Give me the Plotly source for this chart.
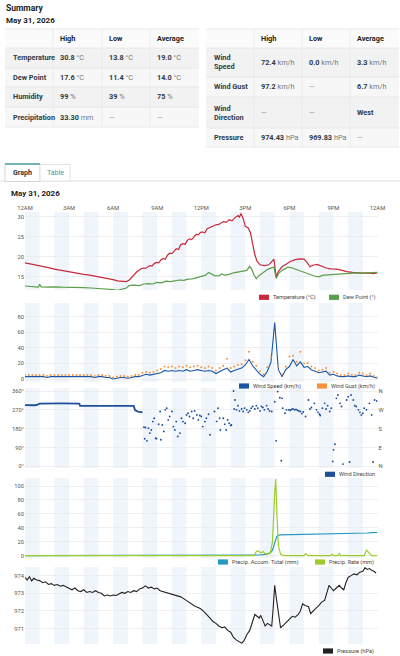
import plotly.graph_objects as go

W, H = 400, 656
FONT = "Roboto"

# ---------------- data ----------------
hour_ticks = [0, 3, 6, 9, 12, 15, 18, 21, 24]
hour_labels = ["12AM", "3AM", "6AM", "9AM", "12PM", "3PM", "6PM", "9PM", "12AM"]

temperature = [(0, 18.5), (0.3, 18.3), (0.6, 18.0), (1, 17.8), (1.3, 17.5), (1.6, 17.3), (2, 16.9), (2.3, 16.7),
               (2.6, 16.4), (3, 16.2), (3.3, 16.0), (3.6, 15.8), (4, 15.6), (4.3, 15.5), (4.6, 15.3), (5, 15.1),
               (5.3, 14.9), (5.6, 14.6), (6, 14.3), (6.3, 14.0), (6.6, 13.9), (6.9, 13.8), (7.1, 14.2), (7.3, 15.0),
               (7.6, 16.2), (7.9, 17.0), (8.05, 17.2), (8.2, 17.1), (8.35, 17.5), (8.5, 17.8), (8.65, 17.7),
               (8.8, 18.3), (8.95, 18.6), (9.1, 18.5), (9.25, 19.2), (9.4, 19.6), (9.55, 19.4), (9.7, 20.4),
               (9.85, 20.9), (10.0, 20.8), (10.15, 21.4), (10.3, 22.0), (10.45, 21.8), (10.6, 23.0), (10.75, 23.3),
               (10.9, 23.1), (11.05, 24.1), (11.2, 24.5), (11.35, 24.3), (11.5, 25.0), (11.65, 25.6), (11.8, 25.5),
               (11.95, 26.1), (12.1, 26.2), (12.25, 26.0), (12.4, 27.0), (12.7, 27.5), (13, 28.0), (13.2, 28.1),
               (13.5, 28.8), (13.7, 28.6), (13.9, 29.3), (14.1, 29.0), (14.3, 29.8), (14.5, 30.3), (14.6, 29.9),
               (14.7, 30.8), (14.85, 29.6), (15.0, 27.6), (15.2, 27.2), (15.35, 26.0), (15.5, 23.0), (15.65, 20.5),
               (15.8, 18.9), (16.0, 18.0), (16.3, 17.8), (16.6, 18.0), (16.8, 18.8), (16.95, 19.4), (17.1, 15.0),
               (17.25, 16.3), (17.5, 17.5), (17.8, 18.3), (18.1, 18.9), (18.4, 19.3), (18.7, 19.5), (19.0, 19.4),
               (19.2, 18.6), (19.4, 17.5), (19.6, 17.9), (19.9, 18.1), (20.2, 17.6), (20.5, 17.2), (20.8, 17.0),
               (21.2, 16.9), (21.6, 16.6), (21.9, 16.3), (22.3, 16.1), (22.6, 16.0), (23.0, 15.9), (23.4, 16.0),
               (23.7, 15.8), (24.0, 16.0)]

dew_point = [(0, 12.7), (0.5, 12.5), (0.9, 12.4), (1.0, 13.1), (1.1, 12.5), (1.5, 12.4), (2, 12.5), (2.5, 12.4),
             (3, 12.4), (3.5, 12.3), (4, 12.3), (4.5, 12.2), (5, 12.1), (5.5, 11.9), (6, 11.8), (6.3, 11.6),
             (6.6, 11.9), (6.9, 12.2), (7.1, 12.8), (7.4, 12.9), (7.8, 12.8), (8.1, 13.2), (8.4, 13.3), (8.7, 13.2),
             (9.0, 13.6), (9.3, 13.5), (9.6, 13.9), (9.9, 13.8), (10.2, 14.0), (10.5, 14.2), (10.8, 14.1),
             (11.1, 14.4), (11.4, 14.5), (11.7, 14.8), (12.0, 15.0), (12.3, 15.4), (12.5, 16.1), (12.7, 15.6),
             (12.9, 15.3), (13.2, 15.2), (13.4, 15.7), (13.6, 15.4), (13.9, 15.6), (14.2, 16.0), (14.5, 16.2),
             (14.8, 16.5), (15.1, 16.6), (15.3, 17.6), (15.45, 16.8), (15.6, 15.4), (15.75, 14.5), (15.9, 15.2),
             (16.2, 16.1), (16.5, 16.8), (16.8, 17.3), (16.95, 17.4), (17.1, 14.6), (17.3, 16.0), (17.6, 16.8),
             (17.9, 17.4), (18.2, 17.2), (18.5, 16.8), (18.8, 16.4), (19.1, 16.0), (19.4, 15.6), (19.7, 15.2),
             (20.0, 15.0), (20.3, 15.4), (20.6, 15.5), (21.0, 15.6), (21.4, 15.7), (21.8, 15.8), (22.2, 16.0),
             (22.6, 16.0), (23.0, 15.9), (23.5, 16.0), (24, 16.1)]

# wind readings every 15 minutes (one row per hour)
wind_interval_h = 0.25
wind_speed = [
    3, 3, 3, 3,
    3, 3, 2, 3,
    3, 3, 3, 3,
    3, 3, 3, 3,
    3, 3, 3, 2,
    3, 3, 2, 2,
    0, 1, 2, 2,
    1, 2, 3, 3,
    5, 6, 5, 6,
    7, 8, 11, 10,
    11, 10, 11, 10,
    12, 10, 11, 12,
    11, 10, 11, 10,
    7, 10, 12, 14,
    9, 11, 13, 14,
    18, 25, 17, 12,
    6, 3, 10, 22,
    72.4, 12, 3, 12,
    16, 25, 17, 22,
    15, 16, 12, 10,
    8, 9, 10, 5,
    6, 4, 3, 3,
    4, 3, 3, 5,
    4, 3, 4, 2,
    1]
wind_gust = [
    5, 5, 5, 5,
    5, 5, 4, 5,
    5, 5, 5, 5,
    5, 5, 5, 5,
    5, 5, 5, 4,
    5, 5, 4, 4,
    2, 3, 4, 4,
    3, 4, 5, 5,
    8, 9, 8, 9,
    11, 13, 16, 15,
    16, 14, 16, 15,
    17, 15, 16, 17,
    15, 14, 16, 14,
    11, 14, 17, 26,
    14, 16, 18, 19,
    24, 35, 22, 17,
    10, 6, 15, 28,
    None, 16, 6, 16,
    29, 30, 22, 35,
    20, 21, 16, 14,
    11, 12, 14, 8,
    9, 7, 5, 5,
    7, 5, 5, 8,
    7, 5, 7, 4,
    3]

wind_dir_steady = [(0, 293), (0.7, 292), (0.9, 296), (1.0, 300), (2.5, 301), (3.7, 300), (3.75, 289),
                   (5.5, 290), (7.4, 289), (7.5, 268), (7.7, 262), (8.0, 258)]
wind_dir_points = [
    (8.1, 187), (8.15, 132), (8.2, 186), (8.3, 122), (8.4, 182), (8.5, 159), (8.6, 174), (8.7, 214), (8.8, 230),
    (8.9, 135), (8.95, 132), (9.1, 201), (9.2, 262), (9.25, 127), (9.35, 198), (9.45, 167), (9.55, 270),
    (9.65, 278), (9.75, 222), (9.85, 238), (10.0, 262), (10.1, 190), (10.2, 174), (10.3, 214), (10.4, 143),
    (10.55, 159), (10.65, 230), (10.75, 214), (10.9, 206), (11.0, 246), (11.1, 254), (11.2, 238), (11.35, 262),
    (11.45, 230), (11.55, 265), (11.7, 246), (11.8, 222), (11.9, 243), (12.0, 238), (12.1, 190), (12.25, 214),
    (12.35, 230), (12.5, 249), (12.6, 151), (12.9, 262), (13.05, 215), (13.15, 278), (13.25, 230), (13.3, 174),
    (13.5, 230), (13.6, 201), (13.7, 174), (13.8, 222), (13.9, 206), (14.0, 195), (14.05, 198),
    (14.2, 360), (14.3, 317), (14.25, 274), (14.4, 270), (14.5, 290), (14.6, 265), (14.75, 274), (14.85, 262),
    (14.95, 278), (15.1, 270), (15.2, 258), (15.3, 265), (15.4, 278), (15.5, 286), (15.65, 274), (15.75, 290),
    (15.85, 278), (16.0, 265), (16.1, 286), (16.2, 281), (16.3, 270), (16.45, 290), (16.55, 274), (16.65, 265),
    (16.8, 262), (17.0, 309), (17.1, 122), (17.2, 357), (17.35, 328), (17.45, 27), (17.5, 325), (17.55, 278),
    (17.7, 254), (17.8, 270), (17.95, 270), (18.05, 268), (18.15, 272), (18.25, 274), (18.35, 270), (18.45, 272),
    (18.55, 268), (18.65, 265), (18.75, 262), (18.85, 252), (18.95, 260), (19.1, 238), (19.3, 317), (19.4, 274),
    (19.5, 281), (19.7, 301), (19.85, 270), (19.95, 258), (20.05, 249), (20.1, 243), (20.25, 278), (20.4, 301),
    (20.5, 274), (20.6, 290), (20.75, 262), (20.85, 278), (20.95, 24), (21.0, 79), (21.1, 106), (21.2, 325),
    (21.3, 341), (21.45, 301), (21.55, 286), (21.65, 11), (21.9, 317), (22.0, 333), (22.1, 21), (22.2, 341),
    (22.35, 317), (22.45, 290), (22.55, 286), (22.7, 270), (22.8, 258), (22.9, 246), (23.0, 254), (23.1, 278),
    (23.25, 270), (23.45, 301), (23.6, 246), (23.7, 21), (23.8, 317), (23.95, 312)]

precip_accum = [(0, 0), (15.6, 0), (16.0, 1), (16.4, 2), (16.7, 4), (16.85, 8), (17.0, 20), (17.15, 28),
                (17.35, 30), (18.0, 30.2), (19.0, 30.6), (20.0, 30.9), (21.0, 31.1), (22.0, 31.3), (23.0, 31.5),
                (23.3, 32.6), (23.6, 33.0), (24.0, 33.3)]
precip_rate = [(0, 0), (15.6, 0), (15.75, 6), (15.9, 7), (16.05, 4), (16.2, 6), (16.35, 3), (16.5, 2), (16.7, 4),
               (16.85, 20), (17.0, 90), (17.07, 110), (17.15, 60), (17.25, 15), (17.4, 2), (17.6, 0), (19.0, 0),
               (19.1, 3), (19.3, 0), (20.8, 0), (20.9, 2), (21.0, 0), (21.3, 0), (21.4, 3), (21.5, 0), (23.1, 0),
               (23.25, 8), (23.45, 3), (23.6, 0), (24, 0)]

pressure = [(0, 973.9), (0.15, 973.75), (0.3, 973.95), (0.45, 973.7), (0.6, 973.85), (0.8, 973.75), (1.0, 973.72),
            (1.2, 973.6), (1.4, 973.65), (1.6, 973.5), (1.8, 973.55), (2.0, 973.45), (2.2, 973.5), (2.4, 973.4),
            (2.6, 973.45), (2.8, 973.35), (3.0, 973.3), (3.2, 973.2), (3.4, 973.3), (3.6, 973.15), (3.8, 973.1),
            (4.0, 973.2), (4.2, 973.05), (4.4, 973.1), (4.6, 973.05), (4.8, 973.15), (5.0, 973.05), (5.2, 973.0),
            (5.4, 972.85), (5.6, 972.9), (5.8, 972.85), (6.0, 972.9), (6.2, 972.88), (6.4, 972.95), (6.6, 973.05),
            (6.8, 973.0), (7.0, 973.1), (7.2, 973.05), (7.4, 973.15), (7.6, 973.1), (7.8, 973.25), (8.0, 973.3),
            (8.2, 973.42), (8.4, 973.3), (8.6, 973.35), (8.8, 973.25), (9.0, 973.3), (9.2, 973.15), (9.4, 973.1),
            (9.6, 973.05), (9.8, 973.0), (10.0, 972.95), (10.2, 972.9), (10.4, 972.85), (10.6, 972.8),
            (10.8, 972.7), (11.0, 972.6), (11.2, 972.5), (11.4, 972.35), (11.6, 972.25), (11.8, 972.2),
            (12.0, 972.1), (12.2, 971.95), (12.4, 971.8), (12.6, 971.6), (12.8, 971.4), (13.0, 971.3),
            (13.2, 971.15), (13.4, 971.05), (13.6, 971.1), (13.8, 970.9), (14.0, 970.8), (14.2, 970.5),
            (14.4, 970.35), (14.6, 970.25), (14.75, 970.18), (14.9, 970.3), (15.1, 970.65), (15.3, 970.9),
            (15.5, 971.4), (15.65, 971.8), (15.8, 971.7), (15.95, 971.6), (16.05, 971.75), (16.2, 971.4),
            (16.35, 971.15), (16.5, 971.3), (16.65, 971.2), (16.8, 971.15), (16.9, 972.2), (17.0, 973.45),
            (17.1, 972.8), (17.25, 971.8), (17.4, 971.05), (17.6, 971.2), (17.8, 971.35), (18.0, 971.55),
            (18.2, 971.7), (18.4, 971.65), (18.6, 971.8), (18.75, 972.0), (18.9, 972.4), (19.1, 972.3),
            (19.3, 972.25), (19.45, 971.85), (19.6, 972.0), (19.8, 972.15), (20.0, 972.3), (20.2, 972.5),
            (20.4, 972.6), (20.55, 973.0), (20.7, 973.45), (20.85, 973.3), (21.0, 973.15), (21.2, 973.3),
            (21.4, 973.45), (21.55, 973.3), (21.7, 973.2), (21.85, 973.6), (22.0, 973.9), (22.2, 974.0),
            (22.4, 974.1), (22.6, 974.05), (22.8, 974.2), (23.0, 974.25), (23.15, 974.45), (23.3, 974.35),
            (23.45, 974.4), (23.6, 974.3), (23.75, 974.25), (23.9, 974.15)]

# summary tables
left_rows = ["Temperature", "Dew Point", "Humidity", "Precipitation"]
left_high = [("30.8", "°C"), ("17.6", "°C"), ("99", "%"), ("33.30", "mm")]
left_low = [("13.8", "°C"), ("11.4", "°C"), ("39", "%"), None]
left_avg = [("19.0", "°C"), ("14.0", "°C"), ("75", "%"), None]
right_rows = ["Wind<br>Speed", "Wind Gust", "Wind<br>Direction", "Pressure"]
right_high = [("72.4", "km/h"), ("97.2", "km/h"), None, ("974.43", "hPa")]
right_low = [("0.0", "km/h"), None, None, ("969.83", "hPa")]
right_avg = [("3.3", "km/h"), ("6.7", "km/h"), ("West", ""), None]
table_header = ["High", "Low", "Average"]

# colors
C_TEMP = "#c8283b"
C_DEW = "#5a9e4b"
C_WIND = "#1b57a6"
C_GUST = "#f5923e"
C_DIR = "#1d4f9a"
C_ACC = "#2797c4"
C_RATE = "#9ccc2c"
C_PRES = "#222222"
C_BAND = "#f0f5fb"
C_GRID = "#e8e8e8"
C_TXT = "#333"


def xs(pts):
    return [p[0] for p in pts]


def ys(pts):
    return [p[1] for p in pts]


def PX(p):
    return p / W


def PY(p):
    return 1 - p / H


wind_hours = [i * wind_interval_h for i in range(len(wind_speed))]

fig = go.Figure()
line_w = 1.2
fig.add_trace(go.Scatter(x=xs(temperature), y=ys(temperature), mode="lines", line=dict(color=C_TEMP, width=line_w),
                         xaxis="x", yaxis="y", name="Temperature (°C)"))
fig.add_trace(go.Scatter(x=xs(dew_point), y=ys(dew_point), mode="lines", line=dict(color=C_DEW, width=line_w),
                         xaxis="x", yaxis="y", name="Dew Point (°)"))
fig.add_trace(go.Scatter(x=wind_hours, y=wind_speed, mode="lines", line=dict(color=C_WIND, width=1.1),
                         xaxis="x2", yaxis="y2", name="Wind Speed (km/h)"))
fig.add_trace(go.Scatter(x=wind_hours, y=wind_gust, mode="markers", marker=dict(color=C_GUST, size=2.0),
                         xaxis="x2", yaxis="y2", name="Wind Gust (km/h)"))
fig.add_trace(go.Scatter(x=xs(wind_dir_steady), y=ys(wind_dir_steady), mode="lines",
                         line=dict(color=C_DIR, width=1.8), xaxis="x3", yaxis="y3", name="Wind Direction"))
fig.add_trace(go.Scatter(x=xs(wind_dir_points), y=ys(wind_dir_points), mode="markers",
                         marker=dict(color=C_DIR, size=1.9), xaxis="x3", yaxis="y6", name="Wind Direction"))
fig.add_trace(go.Scatter(x=xs(precip_accum), y=ys(precip_accum), mode="lines", line=dict(color=C_ACC, width=1.2),
                         xaxis="x4", yaxis="y4", name="Precip. Accum. Total (mm)"))
fig.add_trace(go.Scatter(x=xs(precip_rate), y=ys(precip_rate), mode="lines", line=dict(color=C_RATE, width=1.2),
                         xaxis="x4", yaxis="y4", name="Precip. Rate (mm)"))
fig.add_trace(go.Scatter(x=xs(pressure), y=ys(pressure), mode="lines", line=dict(color=C_PRES, width=1.1),
                         xaxis="x5", yaxis="y5", name="Pressure (hPa)"))

# plot geometry (pixel rows)
panels = [(212, 290), (303, 382), (388, 468), (478, 558), (567, 644)]
y_ranges = [[11.7, 31.2], [-3.85, 97.6], [-7.6, 374.3], [-3.3, 111.5], [970.13, 974.49]]
y_ticks = [[15, 20, 25, 30], [0, 20, 40, 60, 80], [0, 90, 180, 270, 360], [0, 20, 40, 60, 80, 100],
           [971, 972, 973, 974]]
y_ticktext = [None, None, ["0°", "90°", "180°", "270°", "360°"], None, None]
x_dom = [PX(25), PX(377.5)]
tick_font = dict(family=FONT, size=5.8, color="#555")

layout = dict(width=W, height=H, autosize=False, margin=dict(l=0, r=0, t=0, b=0, pad=0, autoexpand=False),
              paper_bgcolor="white", plot_bgcolor="white",
              showlegend=False, hovermode=False, font=dict(family=FONT, color=C_TXT))
for i in range(5):
    n = "" if i == 0 else str(i + 1)
    top, bot = panels[i]
    xa = dict(domain=x_dom, range=[0, 24], showgrid=False, zeroline=False, showline=False, automargin=False,
              tickvals=hour_ticks, ticktext=hour_labels, ticks="", anchor="y" + n, fixedrange=True,
              tickfont=tick_font)
    if i == 0:
        xa.update(side="top", showticklabels=True)
    else:
        xa.update(showticklabels=False, matches="x")
    layout["xaxis" + n] = xa
    ya = dict(domain=[PY(bot), PY(top)], range=y_ranges[i], tickvals=y_ticks[i], showgrid=True, automargin=False,
              gridcolor=C_GRID, gridwidth=0.7, zeroline=False, showline=False, ticks="", anchor="x" + n,
              tickfont=tick_font, fixedrange=True)
    if y_ticktext[i]:
        ya["ticktext"] = y_ticktext[i]
    layout["yaxis" + n] = ya
layout["yaxis6"] = dict(overlaying="y3", side="right", anchor="x3", range=y_ranges[2], automargin=False,
                        tickvals=[0, 90, 180, 270, 360], ticktext=["N", "E", "S", "W", "N"], showgrid=False,
                        zeroline=False, showline=False, ticks="", tickfont=tick_font, fixedrange=True)
fig.update_layout(**layout)

shapes = []
annotations = []

# hour bands
for i in range(5):
    n = "" if i == 0 else str(i + 1)
    for h in range(0, 24, 2):
        shapes.append(dict(type="rect", xref="x" + n, yref="y" + n + " domain", x0=h, x1=h + 1, y0=0, y1=1,
                           fillcolor=C_BAND, line=dict(width=0), layer="below"))


def text(x, y, s, size, color=C_TXT, xanchor="left", bold=False):
    if bold:
        s = "<b>" + s + "</b>"
    annotations.append(dict(xref="paper", yref="paper", x=PX(x), y=PY(y), text=s, showarrow=False,
                            xanchor=xanchor, yanchor="middle", align=xanchor if xanchor != "center" else "center",
                            borderpad=0, font=dict(family=FONT, size=size, color=color)))


def hline(x0, x1, y, color, width=1):
    shapes.append(dict(type="line", xref="paper", yref="paper", x0=PX(x0), x1=PX(x1), y0=PY(y), y1=PY(y),
                       line=dict(color=color, width=width)))


def vline(x, y0, y1, color, width=1):
    shapes.append(dict(type="line", xref="paper", yref="paper", x0=PX(x), x1=PX(x), y0=PY(y0), y1=PY(y1),
                       line=dict(color=color, width=width)))


def rect(x0, x1, y0, y1, fill, lw=0, lc=None):
    shapes.append(dict(type="rect", xref="paper", yref="paper", x0=PX(x0), x1=PX(x1), y0=PY(y1), y1=PY(y0),
                       fillcolor=fill, line=dict(width=lw, color=lc or fill)))


# titles
text(5, 8.5, "Summary", 8.5, "#222", bold=True)
text(5, 20, "May 31, 2026", 8, "#222", bold=True)


def cell_text(v):
    if v is None:
        return "<span style='color:#999'>—</span>"
    num, unit = v
    s = "<b>" + num + "</b>"
    if unit:
        s += " <span style='color:#777'>" + unit + "</span>"
    return s


def draw_table(xe, ye, rows, highs, lows, avgs):
    rect(xe[0], xe[-1], ye[0], ye[1], "#fbfbfb")
    for r in range(len(rows)):
        rect(xe[0], xe[-1], ye[r + 1], ye[r + 2], "#f2f2f2" if r % 2 == 0 else "#f7f7f7")
    for yy in ye:
        hline(xe[0], xe[-1], yy, "#e4e4e4", 0.8)
    for xx in xe[1:-1]:
        vline(xx, ye[0], ye[-1], "#e9e9e9", 0.8)
    for c, hd in enumerate(table_header):
        text(xe[c + 1] + 6, (ye[0] + ye[1]) / 2, hd, 7.3, "#222", bold=True)
    for r, lab in enumerate(rows):
        yc = (ye[r + 1] + ye[r + 2]) / 2
        text(xe[0] + 7, yc, lab, 7.3, "#2f3b45", bold=True)
        for c, col in enumerate([highs, lows, avgs]):
            text(xe[c + 1] + 6, yc, cell_text(col[r]), 7.3, "#2f3b45")


draw_table([5, 53, 102, 150, 199], [29, 48, 68, 87, 107, 127], left_rows, left_high, left_low, left_avg)
draw_table([206, 254, 302, 350, 399], [29, 48, 77, 97, 128, 147], right_rows, right_high, right_low, right_avg)

# tabs
hline(0, 400, 181, "#dddddd", 1)
rect(5, 40, 164, 181.5, "white", 1, "#d5d5d5")
hline(5, 40, 164, "#4a9ea6", 1.5)
rect(40, 70, 164.5, 181, "white", 1, "#e2e2e2")
text(22.5, 173, "Graph", 7, "#333", xanchor="center", bold=True)
text(55, 173, "Table", 7, "#3d9aa8", xanchor="center")
text(10, 193, "May 31, 2026", 8, "#222", bold=True)

# legends (swatch + label)
legend_rows = [
    (297.3, [(259, C_TEMP, "Temperature (°C)"), (329, C_DEW, "Dew Point (°)")]),
    (386.0, [(239, C_WIND, "Wind Speed (km/h)"), (317, C_GUST, "Wind Gust (km/h)")]),
    (474.3, [(325, C_DIR, "Wind Direction")]),
    (562.0, [(218, C_ACC, "Precip. Accum. Total (mm)"), (315, C_RATE, "Precip. Rate (mm)")]),
    (651.0, [(323, C_PRES, "Pressure (hPa)")]),
]
for yc, items in legend_rows:
    for x0, col, lab in items:
        rect(x0, x0 + 10, yc - 2.6, yc + 2.6, col)
        text(x0 + 13, yc, lab, 5.6, "#444")

fig.update_layout(shapes=shapes, annotations=annotations)
fig.write_html("out.html", config={"displayModeBar": False, "staticPlot": True},
               post_script="document.body.style.margin='0';document.body.style.padding='0';")
